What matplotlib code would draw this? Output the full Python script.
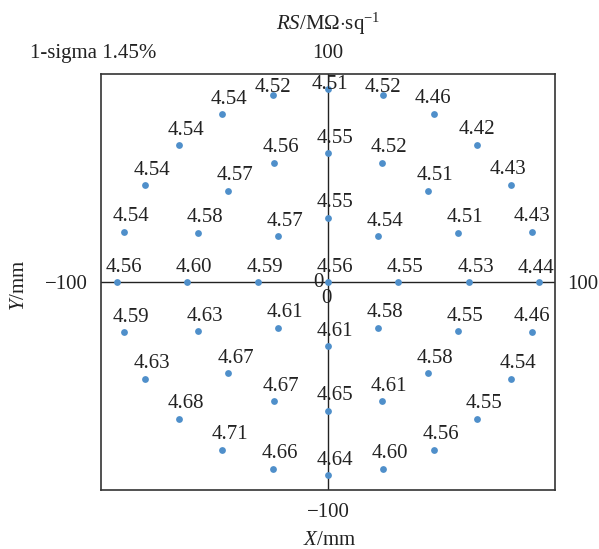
import numpy as np
import matplotlib.pyplot as plt

# sheet resistance map, 49 sites on 3 rings + centre (angles start at +X, counter-clockwise)
ring_radius = [0, 31, 62, 93]          # mm
center_vals = [4.56]
ring1_vals = [4.55, 4.54, 4.55, 4.57, 4.59, 4.61, 4.61, 4.58]
ring2_vals = [4.53, 4.51, 4.51, 4.52, 4.55, 4.56, 4.57, 4.58,
              4.60, 4.63, 4.67, 4.67, 4.65, 4.61, 4.58, 4.55]
ring3_vals = [4.44, 4.43, 4.43, 4.42, 4.46, 4.52, 4.51, 4.52,
              4.54, 4.54, 4.54, 4.54, 4.56, 4.59, 4.63, 4.68,
              4.71, 4.66, 4.64, 4.60, 4.56, 4.55, 4.54, 4.46]
sigma_text = "1-sigma 1.45%"

plt.rcParams['font.family'] = ['Liberation Serif', 'DejaVu Serif']
plt.rcParams['mathtext.fontset'] = 'custom'
plt.rcParams['mathtext.rm'] = 'Liberation Serif'
plt.rcParams['mathtext.it'] = 'Liberation Serif:italic'

fs = 15
dot_color = '#4f8fca'

xs, ys, vals, keys = [], [], [], []
for ring, values in enumerate([center_vals, ring1_vals, ring2_vals, ring3_vals]):
    n = len(values)
    for i, v in enumerate(values):
        ang = np.deg2rad(360.0 * i / n)
        xs.append(ring_radius[ring] * np.cos(ang))
        ys.append(ring_radius[ring] * np.sin(ang))
        vals.append(v)
        keys.append((ring, i))

# label nudges (pixels) where labels were pushed to stay inside the frame
default_off = (7, 10.5)
nudges = {(3, 0): (-3, 9), (3, 1): (0, 11), (3, 2): (-3, 11), (3, 3): (0, 11),
          (3, 4): (-1, 11), (3, 5): (0, 3), (3, 6): (2, 0), (3, 7): (0, 3),
          (3, 23): (0, 11)}

fig = plt.figure(figsize=(5.99, 5.49), dpi=100)
ax = fig.add_axes([101 / 599, 59 / 549, 454 / 599, 416 / 549])
ax.set_xlim(-100, 100)
ax.set_ylim(-100, 100)
ax.set_xticks([])
ax.set_yticks([])
for sp in ax.spines.values():
    sp.set_color('#333333')
    sp.set_linewidth(1.2)
ax.axhline(0, color='#222222', lw=1.0, zorder=1)
ax.axvline(0, color='#222222', lw=1.0, zorder=1)

ax.scatter(xs, ys, s=24, color=dot_color, zorder=3, linewidths=0)
for x, y, v, k in zip(xs, ys, vals, keys):
    dx, dy = nudges.get(k, default_off)
    ax.annotate(f"{v:.2f}", (x, y), xytext=(dx, dy), textcoords='offset pixels',
                ha='center', va='baseline', fontsize=fs, color='#222222', zorder=4)

# axis range labels
def lab(txt, xy, off, **kw):
    ax.annotate(txt, xy, xycoords='axes fraction', xytext=off,
                textcoords='offset pixels', fontsize=fs, color='#222222',
                annotation_clip=False, **kw)

lab('\u2212100', (0, 0.5), (-13, 0), ha='right', va='center_baseline')
lab('100', (1, 0.5), (12, 0), ha='left', va='center_baseline')
lab('100', (0.5, 1), (0, 16), ha='center', va='baseline')
lab('\u2212100', (0.5, 0), (0, -27), ha='center', va='baseline')
lab('0', (0.5, 0.5), (-4, -5), ha='right', va='baseline')
lab('0', (0.5, 0.5), (-2, -21), ha='center', va='baseline')
lab(r'$\mathit{X}/\mathrm{mm}$', (0.5, 0), (2, -55), ha='center', va='baseline')
lab(r'$\mathit{Y}/\mathrm{mm}$', (0, 0.5), (-81, -3), ha='center', va='center', rotation=90)
lab(r'$\mathit{RS}/\mathrm{M\Omega{\cdot}sq}^{-1}$', (0.5, 1), (0, 44), ha='center', va='baseline')
lab(sigma_text, (0, 1), (-71, 16), ha='left', va='baseline')

fig.savefig('out.png', dpi=100)
